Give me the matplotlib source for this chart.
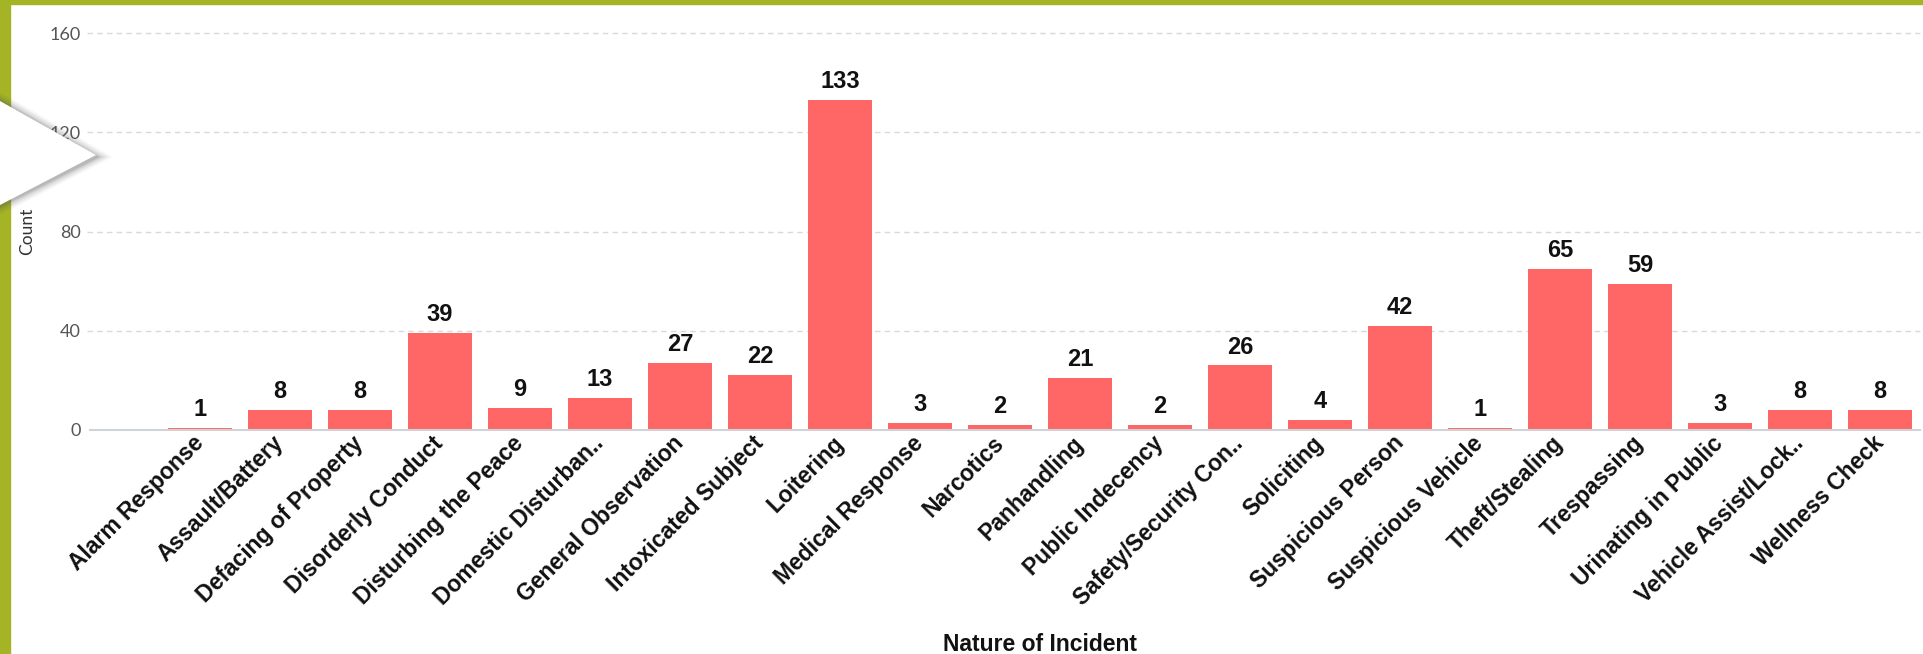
import numpy as np
import matplotlib
matplotlib.use("Agg")
from matplotlib import pyplot as plt
from matplotlib.patches import Rectangle, Polygon

# data
categories = ["Alarm Response", "Assault/Battery", "Defacing of Property",
              "Disorderly Conduct", "Disturbing the Peace", "Domestic Disturban..",
              "General Observation", "Intoxicated Subject", "Loitering",
              "Medical Response", "Narcotics", "Panhandling", "Public Indecency",
              "Safety/Security Con..", "Soliciting", "Suspicious Person",
              "Suspicious Vehicle", "Theft/Stealing", "Trespassing",
              "Urinating in Public", "Vehicle Assist/Lock..", "Wellness Check"]
counts = [1, 8, 8, 39, 9, 13, 27, 22, 133, 3, 2, 21, 2, 26, 4, 42, 1, 65, 59, 3, 8, 8]
yticks = [0, 40, 80, 120, 160]

W, H = 1923, 654
fig = plt.figure(figsize=(W / 100, H / 100), dpi=100)
fig.patch.set_facecolor("white")

# plot area in pixels: x 160..1920, y 33..430
ax = fig.add_axes([160 / W, 1 - 430 / H, 1760 / W, 397 / H])
x = np.arange(len(categories))
bars = ax.bar(x, counts, width=0.8, color="#FF6666", zorder=3)
ax.bar_label(bars, padding=5, fontsize=17, fontweight="bold",
             family="Liberation Sans", color="#111111")

ax.set_xlim(-0.5, len(categories) - 0.5)
ax.set_ylim(0, 160)
ax.set_yticks(yticks)
for s in ax.spines.values():
    s.set_visible(False)

# gridlines run a bit past the left side of the plot area
gx0 = (87 - 160) / 1760
for t in yticks[1:]:
    ax.axhline(t, xmin=gx0, xmax=1, color="#d9d9d9", lw=1,
               ls=(0, (4, 3)), clip_on=False, zorder=1)
ax.axhline(0, xmin=(90 - 160) / 1760, xmax=1, color="#cfd3d8", lw=1.5,
           clip_on=False, zorder=4)

ax.set_xticks(x)
ax.set_xticklabels(categories, rotation=45, ha="right", va="center",
                   rotation_mode="anchor", fontsize=16.5, fontweight="bold",
                   family="Liberation Sans", color="#111111")
ax.tick_params(axis="x", length=0, pad=7)
ax.tick_params(axis="y", length=0, pad=57, labelsize=13, labelcolor="#555555")
for lab in ax.get_yticklabels():
    lab.set_family("Lato")

ax.set_ylabel("Count", family="Lato", fontsize=12.5, color="#333333", va="center")
ax.yaxis.set_label_coords((27 - 160) / 1760, 0.5)
ax.set_xlabel("Nature of Incident", family="Liberation Sans", fontsize=16.5,
              fontweight="bold", color="#111111", va="top")
ax.xaxis.set_label_coords(0.5, (430 - 633) / 397)

# olive frame on top and left
olive = "#A4B424"
fig.patches.append(Rectangle((0, 1 - 4 / H), 1, 4 / H, transform=fig.transFigure,
                             color=olive, zorder=10))
fig.patches.append(Rectangle((0, 0), 10 / W, 1, transform=fig.transFigure,
                             color=olive, zorder=10))

# white pointer with a soft shadow on the left
def px(pts):
    return [(a / W, 1 - b / H) for a, b in pts]

for k, alpha in [(9, 0.05), (7, 0.07), (5, 0.09), (3, 0.12), (1.5, 0.16)]:
    shadow = [(0, 101 - k), (97 + 1.7 * k, 156 + 1), (0, 205 + k + 1)]
    fig.patches.append(Polygon(px(shadow), closed=True, transform=fig.transFigure,
                               facecolor="#555555", edgecolor="none", alpha=alpha,
                               zorder=11))
fig.patches.append(Polygon(px([(0, 101), (96, 155), (0, 205)]), closed=True,
                           transform=fig.transFigure, facecolor="white",
                           edgecolor="none", zorder=12))

fig.savefig("out.png", dpi=100)
